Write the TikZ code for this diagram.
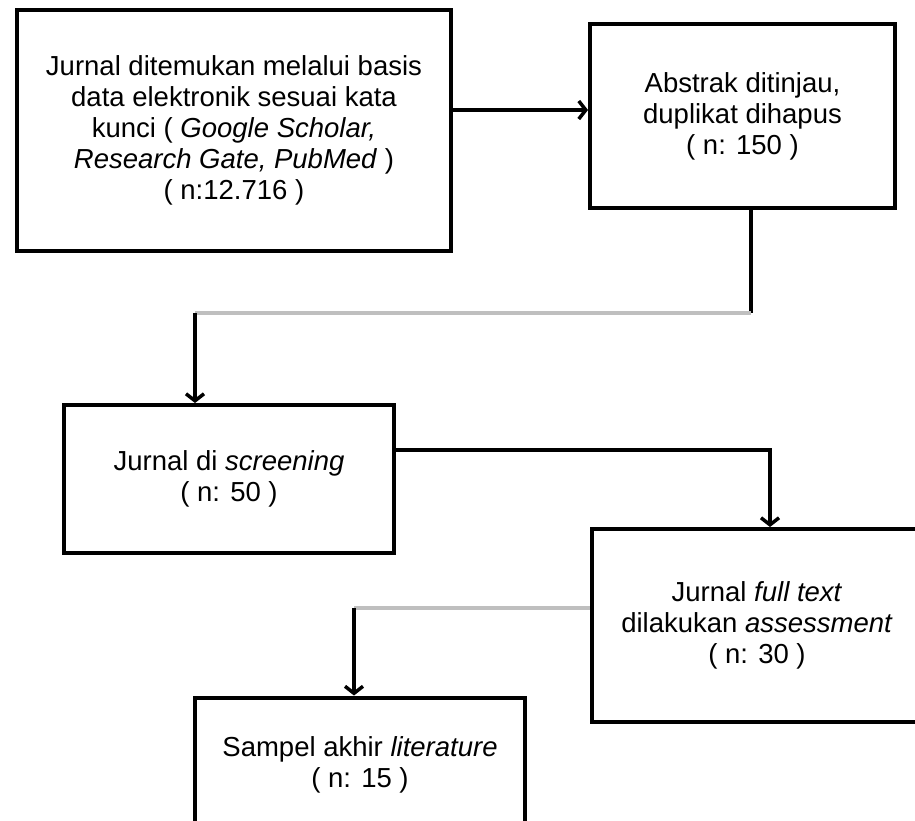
\documentclass[tikz,border=0pt]{standalone}
\usepackage{fontspec}
\setmainfont{Liberation Sans}
\usetikzlibrary{arrows.meta}
\tikzstyle{box} = [rectangle, draw=black, line width=4pt, align=center, font=\fontsize{27.5}{31}\selectfont]
\tikzstyle{arrow} = [line width=3.5pt, -{Straight Barb[length=7pt,width=18pt]}]
\tikzstyle{link} = [line width=3.5pt]
\tikzstyle{faint} = [line width=4pt, draw=black!25]

\begin{document}
\begin{tikzpicture}[x=1pt, y=-1pt]
\useasboundingbox (0,0) rectangle (915,820);
\clip (0,0) rectangle (915,820);
\node(jur)[box, minimum width=434pt, minimum height=241pt] at (234,130.5)
  {Jurnal ditemukan melalui basis\\data elektronik sesuai kata\\kunci ( \textit{Google Scholar,}\\\textit{Research Gate, PubMed} )\\( n:12.716 )};
\node(abs)[box, minimum width=305pt, minimum height=184pt] at (742.5,116)
  {Abstrak ditinjau,\\duplikat dihapus\\( n: 150 )};
\node(scr)[box, minimum width=330pt, minimum height=148pt] at (229,479)
  {Jurnal di \textit{screening}\\( n: 50 )};
\node(full)[box, minimum width=330pt, minimum height=193pt] at (757,625.5)
  {Jurnal \textit{full text}\\dilakukan \textit{assessment}\\( n: 30 )};
\node(sam)[box, minimum width=330pt, minimum height=135pt] at (360,765)
  {Sampel akhir \textit{literature}\\( n: 15 )};

% bends of the connectors
\coordinate (k0) at (0,110);
\coordinate (k1) at (751,313);
\coordinate (k2) at (195,313);
\coordinate (k3) at (770,450);
\coordinate (k4) at (354,608);

\draw[arrow] (jur.east |- k0) -- (abs.west |- k0);
\draw[link] (abs.south -| k1) -- (k1);
\draw[faint] (k1) -- (k2);
\draw[arrow] (k2) -- (k2 |- scr.north);
\draw[arrow] (scr.east |- k3) -| (k3 |- full.north);
\draw[faint] (full.west |- k4) -- (k4);
\draw[arrow] (k4) -- (k4 |- sam.north);

\end{tikzpicture}
\end{document}
